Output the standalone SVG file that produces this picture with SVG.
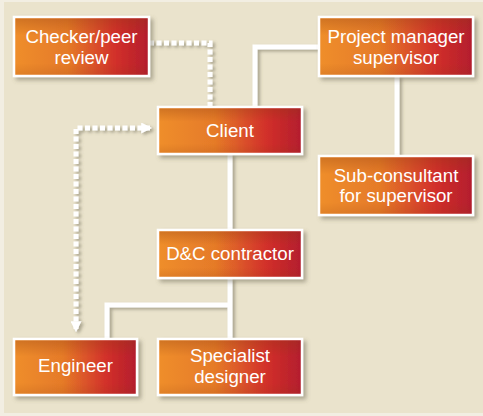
<svg xmlns="http://www.w3.org/2000/svg" width="483" height="416" viewBox="0 0 483 416">
<defs>
<linearGradient id="g" x1="0" y1="0" x2="1" y2="0">
<stop offset="0" stop-color="#EF8E2C"/>
<stop offset="0.4" stop-color="#E57A28"/>
<stop offset="0.75" stop-color="#D2302A"/>
<stop offset="1" stop-color="#B31D2E"/>
</linearGradient>
<linearGradient id="gv" x1="0" y1="0" x2="0" y2="1">
<stop offset="0" stop-color="#8A3A10" stop-opacity="0.3"/>
<stop offset="0.3" stop-color="#8A3A10" stop-opacity="0"/>
<stop offset="0.8" stop-color="#8A3A10" stop-opacity="0"/>
<stop offset="1" stop-color="#8A3A10" stop-opacity="0.15"/>
</linearGradient>
<filter id="sh" x="-20%" y="-20%" width="140%" height="150%">
<feDropShadow dx="3" dy="3" stdDeviation="2" flood-color="#5f5a45" flood-opacity="0.45"/>
</filter>
<filter id="shl" filterUnits="userSpaceOnUse" x="0" y="0" width="483" height="416">
<feDropShadow dx="2.5" dy="2" stdDeviation="1.5" flood-color="#5f5a45" flood-opacity="0.45"/>
</filter>
<marker id="ah" viewBox="0 0 10 10" refX="8" refY="5" markerWidth="2.2" markerHeight="2.2" orient="auto-start-reverse" markerUnits="strokeWidth">
<path d="M0,0 L10,5 L0,10 Z" fill="#FFFFFF"/>
</marker>
<style>
.box rect.b{fill:url(#g);stroke:#FFFFFF;stroke-width:2.5;filter:url(#sh)}
.box rect.o{fill:url(#gv)}
.box text{font-family:"Liberation Sans",Arial,sans-serif;font-size:18.7px;fill:#FFFFFF;text-anchor:middle}
.solid{fill:none;stroke:#FFFFFF;stroke-width:5}
.dash{fill:none;stroke:#FFFFFF;stroke-width:5;stroke-dasharray:5 2.5}
</style>
</defs>
<rect x="0" y="0" width="483" height="416" fill="#F2EEE2"/>
<rect x="4" y="2" width="479" height="411" fill="#EAE3CC"/>
<g id="connectors" filter="url(#shl)">
<path class="solid" d="M255,107 V47 H319"/>
<path class="solid" d="M397,76 V156"/>
<path class="solid" d="M230,154 V230"/>
<path class="solid" d="M230,278 V339"/>
<path class="solid" d="M230,305 H107 V339"/>
<path class="dash" d="M149,43 H210 V107"/>
<path class="dash" d="M150,128 H76 V330" marker-start="url(#ah)" marker-end="url(#ah)"/>
</g>
<g id="checker" class="box">
<rect class="b" x="14" y="17" width="135" height="59"/>
<rect class="o" x="15.5" y="18.5" width="132" height="56"/>
<text x="81.5" y="43">Checker/peer</text>
<text x="81.5" y="64">review</text>
</g>
<g id="pm" class="box">
<rect class="b" x="319" y="17" width="154" height="59"/>
<rect class="o" x="320.5" y="18.5" width="151" height="56"/>
<text x="396" y="43">Project manager</text>
<text x="396" y="64">supervisor</text>
</g>
<g id="client" class="box">
<rect class="b" x="158" y="107" width="144" height="47"/>
<rect class="o" x="159.5" y="108.5" width="141" height="44"/>
<text x="230" y="137">Client</text>
</g>
<g id="subconsultant" class="box">
<rect class="b" x="319" y="156" width="154" height="59"/>
<rect class="o" x="320.5" y="157.5" width="151" height="56"/>
<text x="396" y="182">Sub-consultant</text>
<text x="396" y="202">for supervisor</text>
</g>
<g id="dc" class="box">
<rect class="b" x="158" y="230" width="144" height="48"/>
<rect class="o" x="159.5" y="231.5" width="141" height="45"/>
<text x="230" y="260">D&amp;C contractor</text>
</g>
<g id="engineer" class="box">
<rect class="b" x="14" y="339" width="123" height="56"/>
<rect class="o" x="15.5" y="340.5" width="120" height="53"/>
<text x="75.5" y="372">Engineer</text>
</g>
<g id="specialist" class="box">
<rect class="b" x="158" y="339" width="144" height="56"/>
<rect class="o" x="159.5" y="340.5" width="141" height="53"/>
<text x="230" y="362">Specialist</text>
<text x="230" y="383">designer</text>
</g>
</svg>
